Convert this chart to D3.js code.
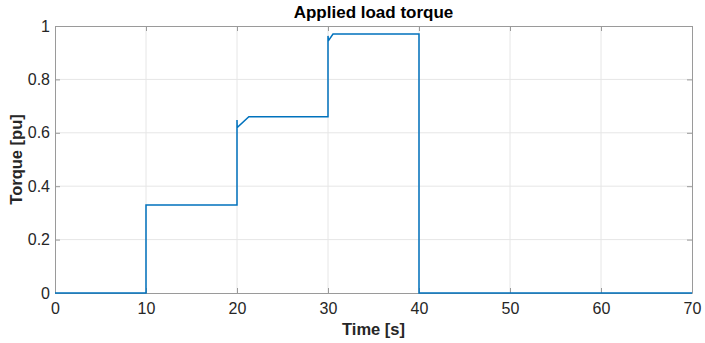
<!DOCTYPE html>
<html>
<head>
<meta charset="utf-8">
<script src="https://cdn.jsdelivr.net/npm/d3@7"></script>
<style>
  body { margin: 0; background: #fff; }
  text { font-family: "Liberation Sans", Arial, sans-serif; }
</style>
</head>
<body>
<div id="chart"></div>
<script>
// load torque profile (time in s, torque in pu)
const timeS = [0, 10, 10, 20, 20, 20.02, 21.3, 30, 30, 30.05, 30.55, 40, 40, 70];
const torquePu = [0, 0, 0.33, 0.33, 0.648, 0.62, 0.66, 0.66, 0.963, 0.945, 0.97, 0.97, 0, 0];
const xTicks = [0, 10, 20, 30, 40, 50, 60, 70];
const yTicks = [0, 0.2, 0.4, 0.6, 0.8, 1];

const margin = { top: 26, right: 13, bottom: 50, left: 55 };
const W = 705, H = 343;
const width = W - margin.left - margin.right;
const height = H - margin.top - margin.bottom;

const svg = d3.select("#chart").append("svg")
  .attr("width", W)
  .attr("height", H);
const g = svg.append("g")
  .attr("transform", "translate(" + margin.left + "," + margin.top + ")");

const x = d3.scaleLinear().domain([0, 70]).range([0, width]);
const y = d3.scaleLinear().domain([0, 1]).range([height, 0]);

// grid
g.append("g").selectAll("line").data(xTicks.slice(1, -1)).enter().append("line")
  .attr("x1", d => x(d)).attr("x2", d => x(d))
  .attr("y1", 0).attr("y2", height)
  .attr("stroke", "#e6e6e6").attr("stroke-width", 1);
g.append("g").selectAll("line").data(yTicks.slice(1, -1)).enter().append("line")
  .attr("y1", d => y(d)).attr("y2", d => y(d))
  .attr("x1", 0).attr("x2", width)
  .attr("stroke", "#e6e6e6").attr("stroke-width", 1);

// axes
const xAxis = g.append("g")
  .attr("transform", "translate(0," + height + ")")
  .call(d3.axisBottom(x).tickValues(xTicks).tickSizeInner(-5).tickSizeOuter(0).tickPadding(10));
const yAxis = g.append("g")
  .call(d3.axisLeft(y).tickValues(yTicks).tickFormat(d3.format("~g")).tickSizeInner(-5).tickSizeOuter(0).tickPadding(5));
const xTop = g.append("g")
  .call(d3.axisTop(x).tickValues(xTicks).tickSizeInner(-5).tickSizeOuter(0).tickFormat(""));
const yRight = g.append("g")
  .attr("transform", "translate(" + width + ",0)")
  .call(d3.axisRight(y).tickValues(yTicks).tickSizeInner(-5).tickSizeOuter(0).tickFormat(""));

[xAxis, yAxis, xTop, yRight].forEach(a => {
  a.select(".domain").attr("stroke", "#9a9a9a");
  a.selectAll(".tick line").attr("stroke", "#9a9a9a");
  a.selectAll(".tick text").attr("fill", "#262626").style("font-size", "16px");
});

// line
const line = d3.line().x((d, i) => x(timeS[i])).y(d => y(d));
g.append("path")
  .datum(torquePu)
  .attr("d", line)
  .attr("fill", "none")
  .attr("stroke", "#0072BD")
  .attr("stroke-width", 1.5);

// labels
svg.append("text")
  .attr("x", margin.left + width / 2).attr("y", 18)
  .attr("text-anchor", "middle")
  .style("font-size", "17px").style("font-weight", "bold")
  .attr("fill", "#000")
  .text("Applied load torque");
svg.append("text")
  .attr("x", margin.left + width / 2).attr("y", 335)
  .attr("text-anchor", "middle")
  .style("font-size", "16.5px").style("font-weight", "bold")
  .attr("fill", "#262626")
  .text("Time [s]");
svg.append("text")
  .attr("transform", "translate(22," + (margin.top + height / 2) + ") rotate(-90)")
  .attr("text-anchor", "middle")
  .style("font-size", "16.5px").style("font-weight", "bold")
  .attr("fill", "#262626")
  .text("Torque [pu]");
</script>
</body>
</html>
